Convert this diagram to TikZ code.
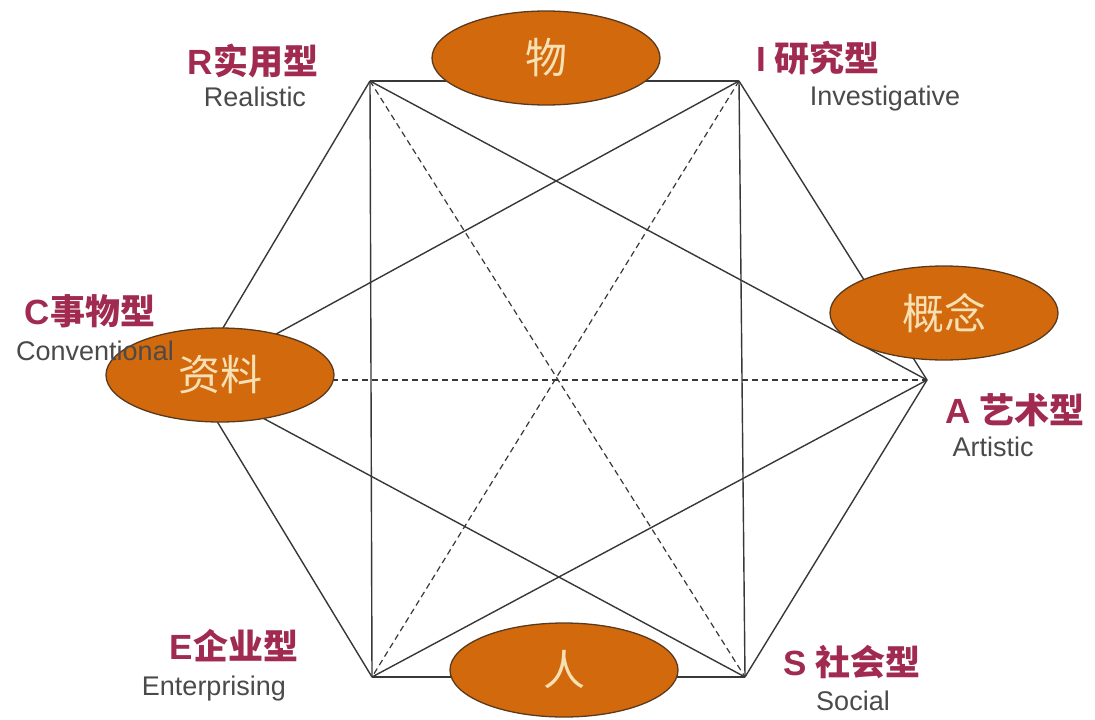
\documentclass[tikz,border=0pt]{standalone}
\usepackage{fontspec}
\setsansfont{Liberation Sans}
\newfontfamily\cjk{Noto Sans CJK SC}
\usetikzlibrary{shapes.geometric}
\definecolor{edgec}{HTML}{383838}
\definecolor{orangefill}{HTML}{D2690C}
\definecolor{ellborder}{HTML}{5A3A1E}
\definecolor{elltext}{HTML}{F8E0B5}
\definecolor{labred}{HTML}{A02A50}
\definecolor{labgray}{HTML}{4A4A4A}
\begin{document}
\begin{tikzpicture}[x=1pt,y=-1pt,
  edge/.style={draw=edgec,line width=1.4pt},
  dashededge/.style={edge,line width=1.2pt,dash pattern=on 6pt off 4pt},
  blob/.style={ellipse,draw=ellborder,line width=1.3pt,fill=orangefill,
    minimum width=228pt,minimum height=94pt,inner sep=0pt,text=elltext,
    font=\cjk\fontsize{42}{42}\selectfont},
  cnlab/.style={text=labred,font=\cjk\bfseries\fontsize{35}{35}\selectfont,inner sep=0pt},
  enlab/.style={text=labgray,font=\sffamily\fontsize{27}{27}\selectfont,inner sep=0pt,anchor=base}]
\useasboundingbox[fill=white] (0,0) rectangle (1095,720);
% vertices
\coordinate (R) at (370,81);
\coordinate (I) at (739,81);
\coordinate (A) at (927,380);
\coordinate (S) at (745,677);
\coordinate (E) at (372,677);
\coordinate (C) at (192,380);
% hexagon edges
\draw[edge] (R) -- (I);
\draw[edge] (I) -- (A);
\draw[edge] (A) -- (S);
\draw[edge] (S) -- (E);
\draw[edge] (E) -- (C);
\draw[edge] (C) -- (R);
% inner solid lines
\draw[edge] (R) -- (A);
\draw[edge] (R) -- (E);
\draw[edge] (I) -- (C);
\draw[edge] (I) -- (S);
\draw[edge] (A) -- (E);
\draw[edge] (S) -- (C);
% dashed long diagonals
\draw[dashededge] (R) -- (S);
\draw[dashededge] (I) -- (E);
\draw[dashededge] (C) -- (A);
% ellipses
\node[blob] (wu) at (546,58) {物};
\node[blob] (ziliao) at (220,375) {资料};
\node[blob] (gainian) at (944,313) {概念};
\node[blob] (ren) at (564,670) {人};
% labels
\node[cnlab] (cnR) at (253,61) {{\sffamily R}实用型};
\node[enlab] (enR) at (255,106) {Realistic};
\node[cnlab] (cnI) at (818,58) {{\sffamily I} 研究型};
\node[enlab] (enI) at (885,105) {Investigative};
\node[cnlab] (cnC) at (90,311) {{\sffamily C}事物型};
\node[enlab] (enC) at (95,360) {Conventional};
\node[cnlab] (cnA) at (1015,410) {{\sffamily A} 艺术型};
\node[enlab] (enA) at (993,456) {Artistic};
\node[cnlab] (cnE) at (234,646) {{\sffamily E}企业型};
\node[enlab] (enE) at (214,695) {Enterprising};
\node[cnlab] (cnS) at (852,662) {{\sffamily S} 社会型};
\node[enlab] (enS) at (853,710) {Social};
\end{tikzpicture}
\end{document}
